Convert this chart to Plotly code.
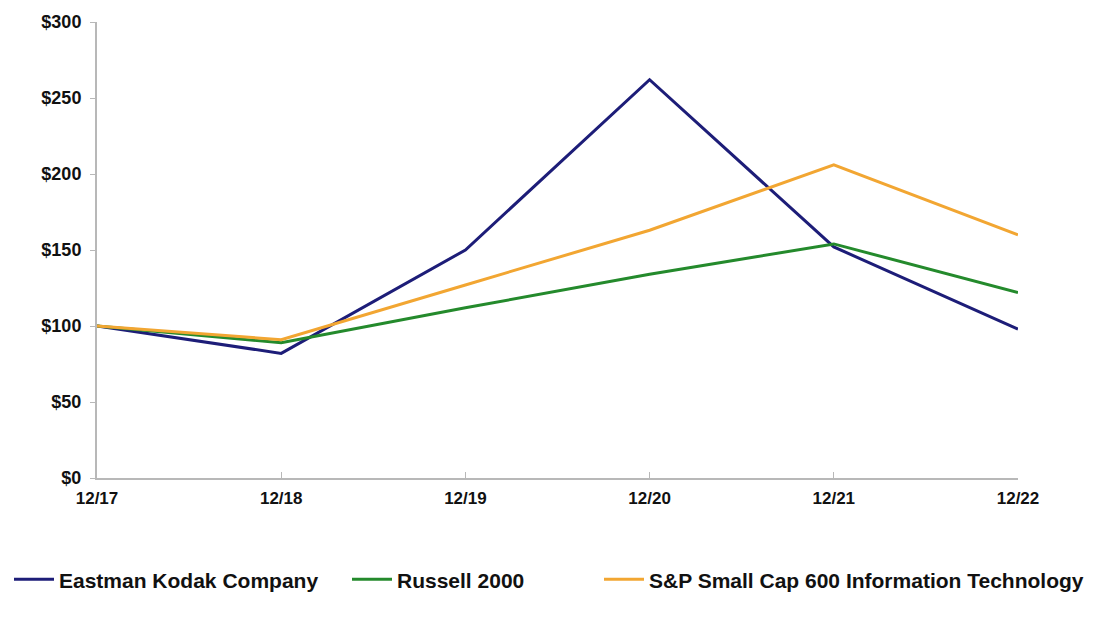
import plotly.graph_objects as go

categories = ["12/17", "12/18", "12/19", "12/20", "12/21", "12/22"]
kodak = [100, 82, 150, 262, 152, 98]
russell = [100, 89, 112, 134, 154, 122]
sp600_it = [100, 91, 127, 163, 206, 160]
y_ticks = [0, 50, 100, 150, 200, 250, 300]
y_tick_labels = ["$0", "$50", "$100", "$150", "$200", "$250", "$300"]

series = [
    ("Eastman Kodak Company", kodak, "#1d1d78", "legend"),
    ("Russell 2000", russell, "#248a2c", "legend2"),
    ("S&P Small Cap 600 Information Technology", sp600_it, "#f2a632", "legend3"),
]

fig = go.Figure()
for name, vals, color, lg in series:
    fig.add_trace(go.Scatter(
        x=categories, y=vals, name=name, mode="lines",
        line=dict(color=color, width=3), legend=lg, showlegend=True,
    ))

font_family = "Liberation Sans, Arial, sans-serif"
legend_common = dict(
    orientation="h", xref="container", yref="container",
    yanchor="middle", y=0.062, xanchor="left",
    font=dict(family=font_family, size=21, color="#111111", weight="bold"),
    bgcolor="rgba(0,0,0,0)", itemwidth=40, visible=True,
)

fig.update_layout(
    width=1105, height=618,
    showlegend=True,
    margin=dict(l=97, r=87, t=22, b=140),
    paper_bgcolor="white", plot_bgcolor="white",
    font=dict(family=font_family, color="#111111"),
    xaxis=dict(
        type="category", range=[0, 5], showgrid=False, zeroline=False,
        showline=True, linecolor="#b8b8b8", linewidth=2,
        ticks="inside", ticklen=6, tickcolor="#b8b8b8", tickwidth=1,
        ticklabelstandoff=4,
        tickfont=dict(size=17, family=font_family, weight="bold", color="#111111"),
    ),
    yaxis=dict(
        range=[0, 300], tickvals=y_ticks, ticktext=y_tick_labels,
        showgrid=False, zeroline=False,
        showline=True, linecolor="#b8b8b8", linewidth=2,
        ticks="outside", ticklen=5, tickcolor="#b8b8b8", tickwidth=1,
        ticklabelstandoff=5,
        tickfont=dict(size=18, family=font_family, weight="bold", color="#111111"),
    ),
    legend=dict(x=9 / 1105, **legend_common),
    legend2=dict(x=347 / 1105, **legend_common),
    legend3=dict(x=599 / 1105, **legend_common),
)

fig.write_html("out.html")
